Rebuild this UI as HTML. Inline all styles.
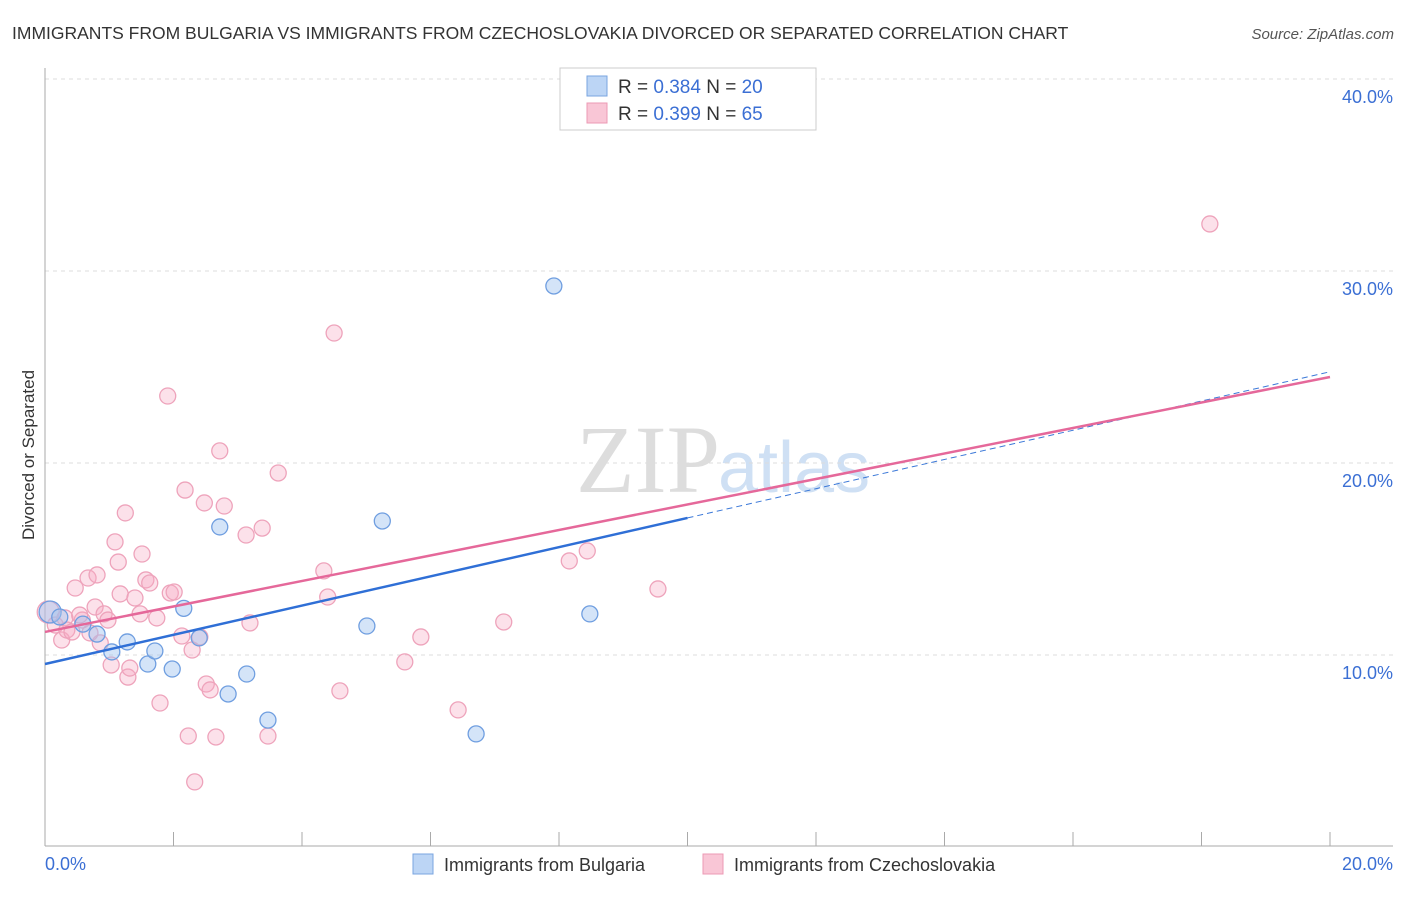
<!DOCTYPE html>
<html><head><meta charset="utf-8"><style>
body{margin:0;background:#fff;font-family:"Liberation Sans",sans-serif}
</style></head><body>
<svg id="c" width="1406" height="892" xmlns="http://www.w3.org/2000/svg" style="font-family:'Liberation Sans',sans-serif">
<text x="12" y="39" font-size="17.5" fill="#333">IMMIGRANTS FROM BULGARIA VS IMMIGRANTS FROM CZECHOSLOVAKIA DIVORCED OR SEPARATED CORRELATION CHART</text>
<text x="1394" y="39" font-size="15" fill="#555" font-style="italic" text-anchor="end">Source: ZipAtlas.com</text>
<text x="720" y="492" font-size="96" fill="#ddd" text-anchor="end" font-family="Liberation Serif">ZIP</text>
<text x="718" y="492" font-size="72" fill="#cfe0f4">atlas</text>
<text transform="translate(34,455) rotate(-90)" font-size="17" fill="#333" text-anchor="middle">Divorced or Separated</text>
<g id="grid"></g><g id="pts"></g><g id="lines"></g>
<g>
<rect x="560" y="68" width="256" height="62" fill="#fff" stroke="#ccc"/>
<rect x="587" y="76" width="20" height="20" fill="#bcd5f5" stroke="#7aa5e0"/>
<rect x="587" y="103" width="20" height="20" fill="#f9c6d6" stroke="#ec9ab4"/>
<text x="618" y="93" font-size="19" fill="#333">R = <tspan fill="#3b6fd4">0.384</tspan>   N = <tspan fill="#3b6fd4">20</tspan></text>
<text x="618" y="120" font-size="19" fill="#333">R = <tspan fill="#3b6fd4">0.399</tspan>   N = <tspan fill="#3b6fd4">65</tspan></text>
</g>
<g>
<rect x="413" y="854" width="20" height="20" fill="#bcd5f5" stroke="#7aa5e0"/>
<text x="444" y="871" font-size="18" fill="#333">Immigrants from Bulgaria</text>
<rect x="703" y="854" width="20" height="20" fill="#f9c6d6" stroke="#ec9ab4"/>
<text x="734" y="871" font-size="18" fill="#333">Immigrants from Czechoslovakia</text>
</g>
</svg>
<script>
const blueX=[0.08,0.81,1.04,1.28,1.60,1.71,1.98,2.16,2.40,2.72,2.85,3.14,3.47,5.25,5.01,6.71,7.92,8.48,0.23,0.59];
const blueY=[12.24,11.09,10.16,10.68,9.53,10.21,9.27,12.43,10.89,16.67,7.97,9.01,6.61,16.98,11.51,5.89,29.22,12.14,11.98,11.61];
const pinkX=[0.05,0.16,0.26,0.34,0.47,0.58,0.67,0.78,0.81,0.86,0.92,0.98,1.03,1.09,1.14,1.17,1.25,1.29,1.32,1.40,1.48,1.51,1.57,1.63,1.74,1.79,1.91,1.95,2.01,2.13,2.18,2.23,2.29,2.33,2.41,2.48,2.51,2.57,2.66,2.72,2.79,3.13,3.19,3.38,3.47,3.63,4.34,4.40,4.50,4.59,5.60,5.85,6.43,7.14,8.16,8.44,9.54,18.13,0.31,0.42,0.54,0.70];
const pinkY=[12.24,11.56,10.78,11.30,13.49,11.82,14.01,12.50,14.17,10.63,12.14,11.82,9.48,15.89,14.84,13.18,17.40,8.85,9.32,12.97,12.14,15.26,13.91,13.75,11.93,7.50,23.49,13.23,13.28,10.99,18.59,5.78,10.26,3.39,10.94,17.92,8.49,8.18,5.73,20.63,17.76,16.25,11.67,16.61,5.78,19.48,14.38,13.02,26.77,8.13,9.64,10.94,7.14,11.72,14.90,15.42,13.44,32.45,11.93,11.20,12.08,11.15];
const yTicks=[10,20,30,40];
const yTickLabels=["10.0%","20.0%","30.0%","40.0%"];
const blueFit=[9.53,0.761];  // intercept, slope
const pinkFit=[11.2,0.664];
const NS="http://www.w3.org/2000/svg";
const sx=v=>45+v/20*1285, sy=v=>847-v*19.2;
function mk(t,a,p){const e=document.createElementNS(NS,t);for(const k in a)e.setAttribute(k,a[k]);document.getElementById(p).appendChild(e);return e;}
yTicks.forEach((t,i)=>{
 const g=mk('line',{x1:45,x2:1393,y1:sy(t),y2:sy(t),stroke:'#ddd','stroke-dasharray':'4,4'},'grid');
 
 
 const l=mk('text',{x:1393,y:sy(t)+24,'font-size':18,fill:'#3b6fd4','text-anchor':'end'},'grid');
 l.textContent=yTickLabels[i];
 
 
});
const ax=mk('line',{x1:45,x2:45,y1:68,y2:846,stroke:'#aaa'},'grid');


const bx=mk('line',{x1:45,x2:1393,y1:846,y2:846,stroke:'#aaa'},'grid');


for(let i=0;i<=10;i++){const t=mk('line',{x1:sx(i*2),x2:sx(i*2),y1:832,y2:846,stroke:'#aaa'},'grid');
 
 }
[["0.0%",45,'start'],["20.0%",1393,'end']].forEach(a=>{const t=mk('text',{x:a[1],y:870,'font-size':18,fill:'#3b6fd4','text-anchor':a[2]},'grid');t.textContent=a[0];
 
 });
pinkX.forEach((x,i)=>{const c=mk('circle',{cx:sx(x),cy:sy(pinkY[i]),r:i==0?11:8,fill:'rgba(246,170,195,0.35)',stroke:'#eea3bb','stroke-width':1.3},'pts');
 
 });
blueX.forEach((x,i)=>{const c=mk('circle',{cx:sx(x),cy:sy(blueY[i]),r:i==0?11:8,fill:'rgba(160,195,240,0.45)',stroke:'#6f9ee0','stroke-width':1.3},'pts');
 
 });
const f=(fit,x)=>fit[0]+fit[1]*x;
let l1=mk('line',{x1:sx(10),y1:sy(f(blueFit,10)),x2:sx(20),y2:sy(f(blueFit,20)),stroke:'#3b78d8','stroke-width':1,'stroke-dasharray':'6,4'},'lines');


let l2=mk('line',{x1:sx(0),y1:sy(f(blueFit,0)),x2:sx(10),y2:sy(f(blueFit,10)),stroke:'#2f6fd6','stroke-width':2.5},'lines');


let l3=mk('line',{x1:sx(0),y1:sy(f(pinkFit,0)),x2:sx(20),y2:sy(f(pinkFit,20)),stroke:'#e5689a','stroke-width':2.5},'lines');


</script>
</body></html>
